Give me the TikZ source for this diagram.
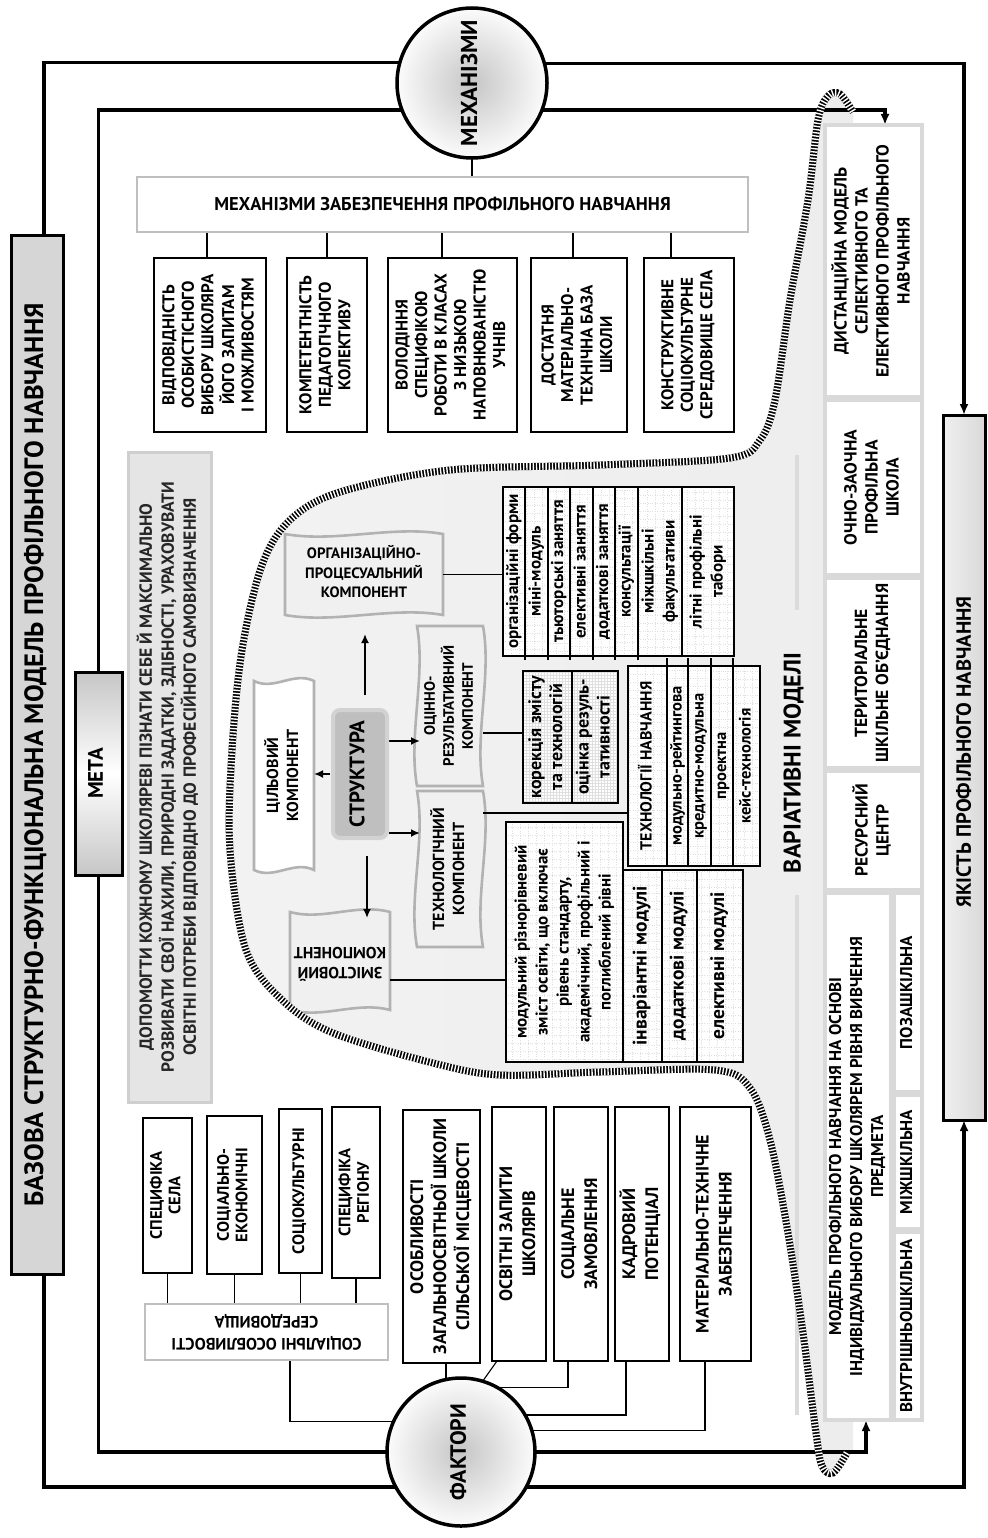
\documentclass[tikz,border=0pt]{standalone}
\usepackage{fontspec}
\setmainfont{PT Sans}
\usepackage{graphicx}
\usetikzlibrary{arrows.meta,calc}
\pgfdeclarelayer{back}
\pgfdeclarelayer{mid}
\pgfsetlayers{back,mid,main}

\newcommand\fsz[2]{\fontsize{#1}{#2}\selectfont}
\newcommand\vt[1]{\rotatebox{90}{\begin{tabular}{@{}c@{}}#1\end{tabular}}}
\newcommand\ut[1]{\rotatebox{180}{\begin{tabular}{@{}c@{}}#1\end{tabular}}}
\newcommand\hz[1]{\begin{tabular}{@{}c@{}}#1\end{tabular}}
\newcommand\wtb[4][]{\draw[comp,#1] (#2.north west) .. controls +(#3,#4) and +(-#3,-#4) .. (#2.north east) -- (#2.south east) .. controls +(-#3,-#4) and +(#3,#4) .. (#2.south west) -- cycle;}
\newcommand\wlr[4][]{\draw[comp,#1] (#2.north west) -- (#2.north east) .. controls +(#4,#3) and +(-#4,-#3) .. (#2.south east) -- (#2.south west) .. controls +(-#4,-#3) and +(#4,#3) .. (#2.north west) -- cycle;}

\tikzset{
 every node/.style={inner sep=0pt, outer sep=0pt, font=\bfseries, text=black},
 loopl/.style={line width=3.6pt},
 tip/.style={-{Latex[length=11pt,width=9pt]}},
 arr/.style={line width=1.8pt, -{Latex[length=9pt,width=8pt]}},
 conn/.style={line width=1.1pt},
 bx/.style={draw=black, line width=1.3pt, fill=white, rectangle},
 gbx/.style={draw=gray!50, line width=2.6pt, fill=white, rectangle},
 colbx/.style={draw=gray!30, line width=3.5pt, fill=white, rectangle},
 ball/.style={circle, draw=black, line width=3.5pt, inner color=gray!45, outer color=gray!3},
 darkbar/.style={draw=black, line width=3pt, rectangle},
 comp/.style={draw=gray!60, line width=2.6pt, fill=gray!12},
 cell/.style={draw=black, line width=1.3pt, fill=white, rectangle,
   path picture={\draw[gray!25, line width=0.3pt, dash pattern=on 0.8pt off 1.6pt] (path picture bounding box.south west) grid[step=8pt] (path picture bounding box.north east);}},
 dcell/.style={cell, path picture={\draw[gray!25, line width=0.3pt] (path picture bounding box.south west) grid[step=3pt] (path picture bounding box.north east);}},
 hatchbase/.style={line width=7pt, black},
 hatchtop/.style={line width=7.2pt, white, dash pattern=on 1.4pt off 1.8pt},
}

\begin{document}
\begin{tikzpicture}[x=1pt,y=-1pt]
\useasboundingbox (0,0) rectangle (987,1538);

% ---------- frame elements ----------
\node[darkbar, fill=gray!32, minimum width=52pt, minimum height=1038pt] (title) at (37,755)
  {\fsz{26.5}{30}\vt{БАЗОВА СТРУКТУРНО-ФУНКЦІОНАЛЬНА МОДЕЛЬ ПРОФІЛЬНОГО НАВЧАННЯ}};
\node[darkbar, top color=gray!45, bottom color=gray!45, middle color=white, minimum width=47pt, minimum height=203pt] (meta) at (98.5,773.5)
  {\fsz{21}{22}\vt{МЕТА}};
\node[draw=gray!38, line width=3pt, fill=gray!20, minimum width=83pt, minimum height=650pt] (goal) at (169.5,777)
  {\fsz{17.5}{22}\color{black!85}\vt{ДОПОМОГТИ КОЖНОМУ ШКОЛЯРЕВІ ПІЗНАТИ СЕБЕ Й МАКСИМАЛЬНО\\РОЗВИВАТИ СВОЇ НАХИЛИ, ПРИРОДНІ ЗАДАТКИ, ЗДІБНОСТІ, УРАХОВУВАТИ\\ОСВІТНІ ПОТРЕБИ ВІДПОВІДНО ДО ПРОФЕСІЙНОГО САМОВИЗНАЧЕННЯ}};
\node[ball, minimum size=150pt] (mech) at (472,83) {\fsz{23}{26}\vt{МЕХАНІЗМИ}};
\node[ball, minimum size=148pt] (fact) at (461,1452) {\fsz{22}{24}\vt{ФАКТОРИ}};
\node[darkbar, left color=gray!12, right color=gray!30, minimum width=42pt, minimum height=705pt] (qual) at (964,767.5) {};
\node (qualt) at (966,752) {\fsz{20.5}{24}\vt{ЯКІСТЬ ПРОФІЛЬНОГО НАВЧАННЯ}};

% ---------- mechanisms ----------
\node[gbx, minimum width=611pt, minimum height=55pt] (hdr) at (442.5,204.5)
  {\fsz{18.5}{22}МЕХАНІЗМИ ЗАБЕЗПЕЧЕННЯ ПРОФІЛЬНОГО НАВЧАННЯ};
\node[bx, minimum width=112pt, minimum height=174pt] (b1) at (210,345)
  {\fsz{17}{19.5}\vt{ВІДПОВІДНІСТЬ\\ОСОБИСТІСНОГО\\ВИБОРУ ШКОЛЯРА\\ЙОГО ЗАПИТАМ\\І МОЖЛИВОСТЯМ}};
\node[bx, minimum width=80pt, minimum height=174pt] (b2) at (327,345)
  {\fsz{17}{19.5}\vt{КОМПЕТЕНТНІСТЬ\\ПЕДАГОГІЧНОГО\\КОЛЕКТИВУ}};
\node[bx, minimum width=129pt, minimum height=174pt] (b3) at (452.5,345)
  {\fsz{17}{19.5}\vt{ВОЛОДІННЯ\\СПЕЦИФІКОЮ\\РОБОТИ В КЛАСАХ\\З НИЗЬКОЮ\\НАПОВНЮВАНІСТЮ\\УЧНІВ}};
\node[bx, minimum width=96pt, minimum height=174pt] (b4) at (579,345)
  {\fsz{17}{19.5}\vt{ДОСТАТНЯ\\МАТЕРІАЛЬНО-\\ТЕХНІЧНА БАЗА\\ШКОЛИ}};
\node[bx, minimum width=90pt, minimum height=174pt] (b5) at (689,345)
  {\fsz{17}{19.5}\vt{КОНСТРУКТИВНЕ\\СОЦІОКУЛЬТУРНЕ\\СЕРЕДОВИЩЕ СЕЛА}};

% ---------- variative models column ----------
\node[colbx, minimum width=97pt, minimum height=272pt] (dist) at (873.5,261)
  {\fsz{17.5}{21}\vt{ДИСТАНЦІЙНА МОДЕЛЬ\\СЕЛЕКТИВНОГО ТА\\ЕЛЕКТИВНОГО ПРОФІЛЬНОГО\\НАВЧАННЯ}};
\node[colbx, minimum width=97pt, minimum height=175pt] (ochno) at (873.5,487.5)
  {\fsz{17.5}{21}\vt{ОЧНО-ЗАОЧНА\\ПРОФІЛЬНА\\ШКОЛА}};
\node[colbx, minimum width=97pt, minimum height=190pt] (terr) at (873.5,673)
  {\fsz{17.5}{21}\vt{ТЕРИТОРІАЛЬНЕ\\ШКІЛЬНЕ ОБ’ЄДНАННЯ}};
\node[colbx, minimum width=97pt, minimum height=119pt] (res) at (873.5,830.5)
  {\fsz{17.5}{21}\vt{РЕСУРСНИЙ\\ЦЕНТР}};
\node[colbx, minimum width=66pt, minimum height=527pt] (model) at (858,1156.5)
  {\fsz{17}{21}\vt{МОДЕЛЬ ПРОФІЛЬНОГО НАВЧАННЯ НА ОСНОВІ\\ІНДИВІДУАЛЬНОГО ВИБОРУ ШКОЛЯРЕМ РІВНЯ ВИВЧЕННЯ\\ПРЕДМЕТА}};
\node[colbx, minimum width=28pt, minimum height=199pt] (poza) at (908,992.5) {\fsz{17}{20}\vt{ПОЗАШКІЛЬНА}};
\node[colbx, minimum width=28pt, minimum height=134pt] (mizh) at (908,1162) {\fsz{17}{20}\vt{МІЖШКІЛЬНА}};
\node[colbx, minimum width=28pt, minimum height=188pt] (vnut) at (908,1326) {\fsz{17}{20}\vt{ВНУТРІШНЬОШКІЛЬНА}};
\node (var) at (795,763) {\fsz{24}{28}\vt{ВАРІАТИВНІ МОДЕЛІ}};

% ---------- factors ----------
\node[bx, minimum width=49pt, minimum height=155pt] (f1) at (167.5,1195.5) {\fsz{16.5}{18.5}\vt{СПЕЦИФІКА\\СЕЛА}};
\node[bx, minimum width=55pt, minimum height=158pt] (f2) at (234.5,1195) {\fsz{16.5}{18.5}\vt{СОЦІАЛЬНО-\\ЕКОНОМІЧНІ}};
\node[bx, minimum width=43pt, minimum height=164pt] (f3) at (300.5,1191) {\fsz{16.5}{18.5}\vt{СОЦІОКУЛЬТУРНІ}};
\node[bx, minimum width=48pt, minimum height=171pt] (f4) at (356,1192.5) {\fsz{16.5}{18.5}\vt{СПЕЦИФІКА\\РЕГІОНУ}};
\node[gbx, minimum width=243pt, minimum height=56pt] (soc) at (266.5,1332) {\fsz{16.5}{22}\ut{СОЦІАЛЬНІ ОСОБЛИВОСТІ\\СЕРЕДОВИЩА}};
\node[bx, minimum width=77pt, minimum height=253pt] (f5) at (441.5,1236.5) {\fsz{18}{23}\vt{ОСОБЛИВОСТІ\\ЗАГАЛЬНООСВІТНЬОЇ ШКОЛИ\\СІЛЬСЬКОЇ МІСЦЕВОСТІ}};
\node[bx, minimum width=54pt, minimum height=254pt] (f6) at (519,1234) {\fsz{18}{23}\vt{ОСВІТНІ ЗАПИТИ\\ШКОЛЯРІВ}};
\node[bx, minimum width=54pt, minimum height=254pt] (f7) at (581,1234) {\fsz{18}{23}\vt{СОЦІАЛЬНЕ\\ЗАМОВЛЕННЯ}};
\node[bx, minimum width=54pt, minimum height=254pt] (f8) at (642,1234) {\fsz{18}{23}\vt{КАДРОВИЙ\\ПОТЕНЦІАЛ}};
\node[bx, minimum width=71pt, minimum height=254pt] (f9) at (715.5,1234) {\fsz{18}{23}\vt{МАТЕРІАЛЬНО-ТЕХНІЧНЕ\\ЗАБЕЗПЕЧЕННЯ}};

% ---------- structure components ----------
\node[minimum width=158pt, minimum height=81pt] (org) at (364,574.5) {\fsz{15}{19.5}\hz{ОРГАНІЗАЦІЙНО-\\ПРОЦЕСУАЛЬНИЙ\\КОМПОНЕНТ}};
\node[minimum width=60pt, minimum height=189pt] (cil) at (284,775.5) {\fsz{16}{20}\vt{ЦІЛЬОВИЙ\\КОМПОНЕНТ}};
\node[draw=gray!35, line width=4pt, fill=gray!50, rounded corners=7pt, minimum width=54pt, minimum height=128pt] (str) at (360,774) {\fsz{21}{22}\vt{СТРУКТУРА}};
\node[minimum width=66pt, minimum height=160pt] (ots) at (450,706) {\fsz{15}{19}\vt{ОЦІННО-\\РЕЗУЛЬТАТИВНИЙ\\КОМПОНЕНТ}};
\node[minimum width=66pt, minimum height=156pt] (teh) at (450,869) {\fsz{16}{20}\vt{ТЕХНОЛОГІЧНИЙ\\КОМПОНЕНТ}};
\node[minimum width=100pt, minimum height=98pt] (zm) at (340,961) {\fsz{16}{20}\ut{ЗМІСТОВИЙ\\КОМПОНЕНТ}};

% ---------- lists ----------
\node[cell, minimum width=22pt, minimum height=169pt] (ol1) at (514,571.5) {\fsz{17}{21}\vt{організаційні форми}};
\node[cell, minimum width=23pt, minimum height=169pt] (ol2) at (536.5,571.5) {\fsz{17}{21}\vt{міні-модуль}};
\node[cell, minimum width=22pt, minimum height=169pt] (ol3) at (559,571.5) {\fsz{17}{21}\vt{тьюторські заняття}};
\node[cell, minimum width=23pt, minimum height=169pt] (ol4) at (581.5,571.5) {\fsz{17}{21}\vt{елективні заняття}};
\node[cell, minimum width=22pt, minimum height=169pt] (ol5) at (604,571.5) {\fsz{17}{21}\vt{додаткові заняття}};
\node[cell, minimum width=23pt, minimum height=169pt] (ol6) at (626.5,571.5) {\fsz{17}{21}\vt{консультації}};
\node[cell, minimum width=44pt, minimum height=169pt] (ol7) at (660,571.5) {\fsz{17}{21}\vt{міжшкільні\\факультативи}};
\node[cell, minimum width=52pt, minimum height=169pt] (ol8) at (708,571.5) {\fsz{17}{21}\vt{літні профільні\\табори}};

\node[dcell, minimum width=49pt, minimum height=132pt] (cr1) at (547.5,737) {\fsz{18}{21}\vt{корекція змісту\\та технологій}};
\node[dcell, minimum width=46pt, minimum height=132pt] (cr2) at (595,737) {\fsz{18}{21}\vt{оцінка резуль-\\тативності}};

\node[cell, minimum width=39pt, minimum height=200pt] (tc1) at (647.5,766) {\fsz{16}{21}\vt{ТЕХНОЛОГІЇ НАВЧАННЯ}};
\node[cell, minimum width=21pt, minimum height=200pt] (tc2) at (677.5,766) {\fsz{16.5}{21}\vt{модульно-рейтингова}};
\node[cell, minimum width=23pt, minimum height=200pt] (tc3) at (699.5,766) {\fsz{16.5}{21}\vt{кредитно-модульна}};
\node[cell, minimum width=22pt, minimum height=200pt] (tc4) at (722,766) {\fsz{16.5}{21}\vt{проектна}};
\node[cell, minimum width=27pt, minimum height=200pt] (tc5) at (746.5,766) {\fsz{16.5}{21}\vt{кейс-технологія}};

\node[cell, minimum width=117pt, minimum height=240pt] (ct1) at (564.5,942) {\fsz{17}{21}\vt{модульний різнорівневий\\зміст освіти, що включає\\рівень стандарту,\\академічний, профільний і\\поглиблений рівні}};
\node[cell, minimum width=39pt, minimum height=192pt] (cm1) at (642.5,966) {\fsz{19.5}{21}\vt{інваріантні модулі}};
\node[cell, minimum width=35pt, minimum height=192pt] (cm2) at (679.5,966) {\fsz{19.5}{21}\vt{додаткові модулі}};
\node[cell, minimum width=46pt, minimum height=192pt] (cm3) at (720,966) {\fsz{19.5}{21}\vt{елективні модулі}};

% ---------- background: shaded area, component shapes ----------
\begin{pgfonlayer}{back}
\fill[white] (0,0) rectangle (987,1538);
\shade[left color=gray!10, middle color=gray!36, right color=gray!14]
  plot[smooth, tension=0.55] coordinates {(847,1453) (833,1473) (822,1466) (816,1433) (803,1333) (788,1233) (770,1140) (750,1088) (715,1070) (600,1072) (500,1075) (433,1063) (333,1033) (282,1000) (246,950) (230,850) (232,750) (242,650) (262,565) (290,520) (340,492) (450,470) (600,465) (730,458) (760,440) (775,400) (790,300) (808,200) (818,120) (828,96) (840,94) (853,112)}
  -- (853,1453) -- cycle;
\draw[gray!28, line width=4pt] (797,455) -- (797,610);
\draw[gray!28, line width=4pt] (797,895) -- (797,1415);
\wtb{org}{50}{9}
\wtb[fill=white]{cil}{20}{10}
\wtb{zm}{33}{9}
\wlr{ots}{50}{9}
\wlr{teh}{50}{9}
\end{pgfonlayer}

% ---------- connectors ----------
\begin{pgfonlayer}{mid}
\draw[loopl] (mech.164.5) -| ([xshift=7pt]title.north);
\draw[loopl, tip] (mech.15.5) -| (qual.north);
\draw[loopl] (mech.201.1) -| (meta.north);
\draw[loopl, tip] (mech.-21.1) -| ([xshift=11.5pt]dist.north);
\draw[loopl] (fact.west) -| (meta.south);
\draw[loopl, tip] (fact.east) -| ([xshift=8pt]model.south);
\draw[loopl] (fact.208.2) -| ([xshift=7pt]title.south);
\draw[loopl, tip] (fact.-28.2) -| (qual.south);
\draw[conn] (mech.south) -- (mech.south |- hdr.north);
\draw[conn] ([xshift=-3pt]b1.north) -- ([xshift=-3pt]b1.north |- hdr.south);
\draw[conn] (b2.north) -- (b2.north |- hdr.south);
\draw[conn] ([xshift=-10.5pt]b3.north) -- ([xshift=-10.5pt]b3.north |- hdr.south);
\draw[conn] ([xshift=-6pt]b4.north) -- ([xshift=-6pt]b4.north |- hdr.south);
\draw[conn] ([xshift=-18pt]b5.north) -- ([xshift=-18pt]b5.north |- hdr.south);
\draw[conn] (f1.south) -- (f1.south |- soc.north);
\draw[conn] (f2.south) -- (f2.south |- soc.north);
\draw[conn] (f3.south) -- (f3.south |- soc.north);
\draw[conn] (f4.south) -- (f4.south |- soc.north);
\draw[conn] ([xshift=23.5pt]soc.south) |- (fact.156.9);
\draw[conn] ([xshift=4.5pt]f5.south) -- ([xshift=4.5pt]f5.south |- fact.north);
\draw[conn] ([xshift=-22pt]f6.south) -- (fact.73.5);
\draw[conn] ([xshift=-13pt]f7.south) |- (fact.61.4);
\draw[conn] ([xshift=-16pt]f8.south) |- (fact.30.9);
\draw[conn] ([xshift=-10.5pt]f9.south) |- (fact.17.3);
\draw[arr, shorten <=15pt, shorten >=19pt] ([xshift=5pt]str.north) -- ([xshift=5pt]str.north |- org.south);
\draw[arr, shorten <=3pt] (str.west) -- (str.west -| cil.east);
\draw[arr, shorten <=2pt, shorten >=-3pt] ([yshift=33pt]str.east) -- ([yshift=33pt]str.east -| ots.west);
\draw[arr, shorten <=2pt, shorten >=-3pt] ([yshift=-59pt]str.east) -- ([yshift=-59pt]str.east -| teh.west);
\draw[arr, shorten <=18pt, shorten >=-6pt] ([xshift=7pt]str.south) -- ([xshift=7pt]str.south |- zm.north);
\draw[conn] (org.east) -- (org.east -| ol1.west);
\draw[conn] ([yshift=-27pt]ots.east) -- ([yshift=-27pt]ots.east -| cr1.west);
\draw[conn] ([yshift=56pt]teh.east) -- ([yshift=56pt]teh.east -| tc1.west);
\draw[conn] ([yshift=-19pt]zm.east) -- ([yshift=-19pt]zm.east -| ct1.west);
\foreach \c in {ol2,ol3,ol4,ol5,ol6,ol7} \draw[conn] (\c.south west) -- ([yshift=-4pt]\c.south west);
\foreach \c in {tc2,tc3,tc4,tc5} \draw[conn] (\c.north west) -- ([yshift=8pt]\c.north west);
\end{pgfonlayer}

% ---------- hatched boundary ----------
\draw[hatchbase] plot[smooth, tension=0.55] coordinates {(847,1453) (833,1473) (822,1466) (816,1433) (803,1333) (788,1233) (770,1140) (750,1088) (715,1070) (600,1072) (500,1075) (433,1063) (333,1033) (282,1000) (246,950) (230,850) (232,750) (242,650) (262,565) (290,520) (340,492) (450,470) (600,465) (730,458) (760,440) (775,400) (790,300) (808,200) (818,120) (828,96) (840,94) (853,112)};
\draw[hatchtop] plot[smooth, tension=0.55] coordinates {(847,1453) (833,1473) (822,1466) (816,1433) (803,1333) (788,1233) (770,1140) (750,1088) (715,1070) (600,1072) (500,1075) (433,1063) (333,1033) (282,1000) (246,950) (230,850) (232,750) (242,650) (262,565) (290,520) (340,492) (450,470) (600,465) (730,458) (760,440) (775,400) (790,300) (808,200) (818,120) (828,96) (840,94) (853,112)};
\end{tikzpicture}
\end{document}
